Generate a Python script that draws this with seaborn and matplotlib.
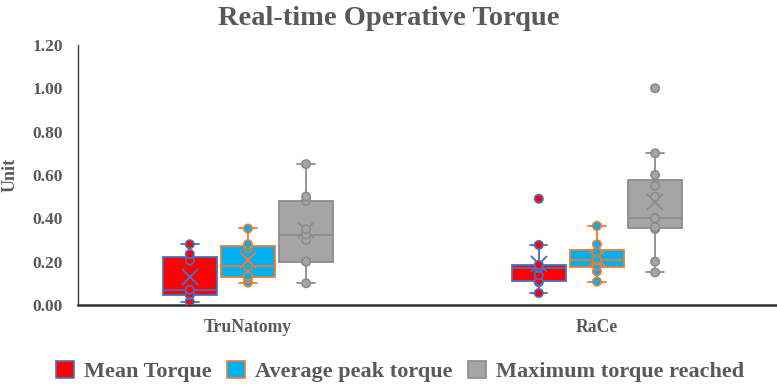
import numpy as np
import pandas as pd
import matplotlib
matplotlib.use("Agg")
import matplotlib.pyplot as plt
from matplotlib.patches import Patch
import seaborn as sns

# values
groups = ["TruNatomy", "RaCe"]
series = ["Mean Torque", "Average peak torque", "Maximum torque reached"]

tru_mean = [0.015, 0.045, 0.05, 0.07, 0.205, 0.235, 0.28]
tru_peak = [0.103, 0.121, 0.134, 0.18, 0.265, 0.28, 0.353]
tru_max = [0.10, 0.20, 0.20, 0.30, 0.325, 0.35, 0.48, 0.50, 0.65]

race_mean = [0.055, 0.105, 0.11, 0.137, 0.17, 0.175, 0.185, 0.277, 0.49]
race_peak = [0.108, 0.155, 0.18, 0.204, 0.21, 0.245, 0.28, 0.365]
race_max = [0.15, 0.20, 0.35, 0.36, 0.40, 0.40, 0.50, 0.55, 0.60, 0.70, 1.0]

fills = ["#FF0000", "#00B0F0", "#A5A5A5"]
edges = ["#4472C4", "#ED7D31", "#8C8C8C"]
text_col = "#595959"

# long form table for seaborn
rows = []
for g, vals in zip(groups, [[tru_mean, tru_peak, tru_max], [race_mean, race_peak, race_max]]):
    for s, v in zip(series, vals):
        for x in v:
            rows.append((g, s, x))
df = pd.DataFrame(rows, columns=["group", "series", "value"])

sns.set_style("white")
plt.rcParams["font.family"] = ["Liberation Serif", "DejaVu Serif"]
plt.rcParams["font.weight"] = "bold"

fig = plt.figure(figsize=(7.77, 3.87), dpi=100)
ax = fig.add_axes([0.1004, 0.212, 0.8996, 0.672])

box_w = 0.5
pal = dict(zip(series, fills))
for s, fc, ec in zip(series, fills, edges):
    sub = df[df["series"] == s]
    sns.boxplot(data=sub, x="group", y="value", hue="series", order=groups,
                hue_order=series, palette=pal, saturation=1, linecolor=ec,
                linewidth=1.3, width=box_w, gap=0.07, dodge=True,
                showfliers=False, whis=1.5, showmeans=True, capwidths=0.05,
                meanprops=dict(marker="x", markeredgecolor=ec, markersize=12,
                               markeredgewidth=1.4),
                legend=False, ax=ax)
    n_before = len(ax.collections)
    sns.stripplot(data=sub, x="group", y="value", hue="series", order=groups,
                  hue_order=series, palette=pal, jitter=False, dodge=True,
                  size=6, edgecolor=ec, linewidth=1.2, legend=False, ax=ax,
                  zorder=4)
    # stripplot dodges over 0.8 of the category, boxes over box_w: pull points onto boxes
    for coll in ax.collections[n_before:]:
        off = coll.get_offsets()
        cat = np.round(off[:, 0])
        off[:, 0] = cat + (off[:, 0] - cat) * box_w / 0.8
        coll.set_offsets(off)

ax.set_xlim(-0.487, 1.516)
ax.set_ylim(0, 1.2)
ax.set_yticks(np.arange(0, 1.21, 0.2))
ax.set_yticklabels([f"{t:.2f}" for t in np.arange(0, 1.21, 0.2)])
ax.tick_params(axis="y", length=0, labelsize=12.5, colors=text_col, pad=11)
ax.tick_params(axis="x", length=0, labelsize=12.7, colors=text_col, pad=10)
for lab in ax.get_xticklabels() + ax.get_yticklabels():
    lab.set_fontweight("bold")
ax.set_xlabel("")
ax.set_ylabel("Unit", fontsize=13, fontweight="bold", color=text_col, labelpad=10)
ax.grid(False)
for side in ["top", "right"]:
    ax.spines[side].set_visible(False)
ax.spines["left"].set_color("#404040")
ax.spines["left"].set_linewidth(1.0)
ax.spines["bottom"].set_color("#303030")
ax.spines["bottom"].set_linewidth(1.8)

fig.text(0.5, 0.952, "Real-time Operative Torque", ha="center", va="center",
         fontsize=20.5, fontweight="bold", color=text_col)

handles = [Patch(facecolor=fc, edgecolor=ec, linewidth=1.2) for fc, ec in zip(fills, edges)]
leg = fig.legend(handles, series, loc="center", bbox_to_anchor=(0.515, 0.04), ncol=3,
                 frameon=False, handlelength=0.8, handleheight=0.8, handletextpad=0.45,
                 columnspacing=0.7, prop=dict(size=16, weight="bold"))
for t in leg.get_texts():
    t.set_color(text_col)

fig.savefig("out.png", dpi=100)
